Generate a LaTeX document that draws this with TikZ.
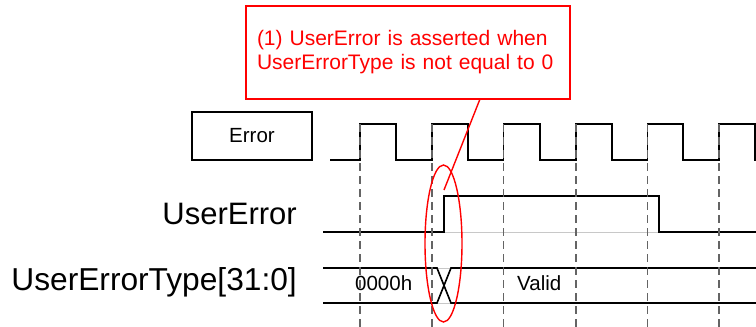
\documentclass[tikz,border=0pt]{standalone}
\usepackage{fontspec}
\setmainfont{Liberation Sans}
\usetikzlibrary{shapes.geometric}
\definecolor{dgray}{RGB}{100,100,100}
\definecolor{lgray}{RGB}{200,200,200}
\definecolor{cred}{RGB}{255,0,0}
\begin{document}
\begin{tikzpicture}[x=1pt,y=-1pt,
  wave/.style={line width=1.6pt, black, line join=miter},
  thin gray/.style={line width=0.8pt, lgray},
  gridline/.style={line width=1.6pt, dgray, dash pattern=on 8pt off 5pt},
  redline/.style={line width=1.4pt, cred},
  calloutbox/.style={draw=cred, line width=1.4pt, fill=white, text=cred,
    minimum width=324pt, minimum height=93pt, text width=302pt, align=left,
    inner xsep=11pt, font=\fontsize{21}{24}\selectfont},
  sigbox/.style={draw=black, line width=1.2pt, minimum width=120pt, minimum height=48pt,
    inner sep=0pt, font=\fontsize{20.5}{24}\selectfont},
  biglabel/.style={anchor=base east, inner sep=0pt, font=\fontsize{31}{36}\selectfont},
  buslabel/.style={anchor=base west, inner sep=0pt, font=\fontsize{20.5}{24}\selectfont}]
\useasboundingbox (0,0) rectangle (756,327);

% signal name boxes and labels
\node[sigbox] (err) at (252,136) {Error};
\node[biglabel] (ue) at (297,224) {UserError};
\node[biglabel, font=\fontsize{31.7}{36}\selectfont] (uet) at (297,290) {UserErrorType[31:0]};

% clock waveform (Error)
\draw[wave] (330,160) -- (360,160) -- (360,124) -- (396,124) -- (396,160)
  -- (432,160) -- (432,124) -- (468,124) -- (468,160)
  -- (503.5,160) -- (503.5,124) -- (540,124) -- (540,160)
  -- (576,160) -- (576,124) -- (612,124) -- (612,160)
  -- (647.5,160) -- (647.5,124) -- (683,124) -- (683,160)
  -- (719,160) -- (719,124) -- (755,124) -- (755,160) -- (756,160);

% UserError waveform
\draw[thin gray] (444,232) -- (659,232);
\draw[wave] (323,232) -- (444,232) -- (444,196) -- (659,196) -- (659,232) -- (756,232);

% UserErrorType bus
\draw[thin gray] (437,268) -- (451,268);
\draw[thin gray] (437,303) -- (451,303);
\draw[wave] (323,268) -- (437,268) -- (451,303) -- (756,303);
\draw[wave] (323,303) -- (437,303) -- (451,268) -- (756,268);
\node[buslabel] (v0) at (355,290.5) {0000h};
\node[buslabel] (v1) at (517,290.5) {Valid};

% dashed clock-edge markers
\foreach \gx in {360,432,503.5,576,647.5,719}
  \draw[gridline] (\gx,124) -- (\gx,327);

% callout
\node[calloutbox] (note) at (408,52.5) {(1) UserError is asserted when\\UserErrorType is not equal to 0};
\node[draw=cred, line width=1.4pt, ellipse, minimum width=37pt, minimum height=157pt, inner sep=0pt] (ring) at (443.5,243.5) {};
\coordinate (nb) at (480,99);
\coordinate (tip) at (444,190);
\draw[redline] (nb) -- (tip);
\end{tikzpicture}
\end{document}
